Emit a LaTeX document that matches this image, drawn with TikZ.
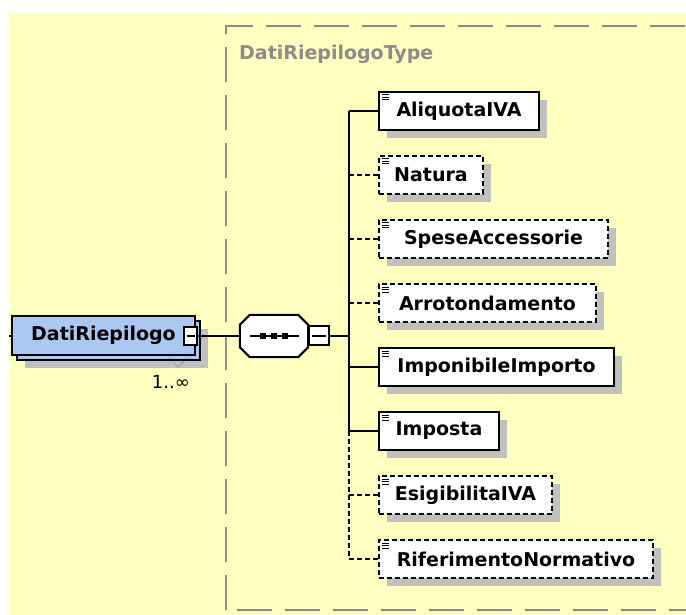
\documentclass[tikz,border=0pt]{standalone}
\usepackage{fontspec}
\setsansfont{DejaVu Sans}
\usepackage{tikz}
\usetikzlibrary{shadows,positioning}
\definecolor{xsyellow}{RGB}{255,255,192}
\definecolor{xsblue}{RGB}{170,200,240}
\definecolor{xsshadow}{RGB}{192,192,192}
\definecolor{xsgray}{RGB}{140,140,140}
\tikzstyle{link} = [line width=2pt, black]
\tikzstyle{optlink} = [link, dash pattern=on 5pt off 3pt]
\tikzstyle{elemfont} = [font=\sffamily\bfseries\fontsize{19}{22}\selectfont]
\tikzstyle{mandelem} = [rectangle, draw=black, line width=2pt, fill=white, minimum height=38pt, inner sep=0pt, elemfont, drop shadow={shadow xshift=8pt, shadow yshift=-8pt, fill=xsshadow, opacity=1}]
\tikzstyle{optelem} = [mandelem, dash pattern=on 5pt off 3pt]
\tikzstyle{rootelem} = [rectangle, draw=black, line width=2pt, fill=xsblue, minimum width=183pt, minimum height=39pt, inner sep=0pt, elemfont, drop shadow={shadow xshift=13pt, shadow yshift=-13pt, fill=xsshadow, opacity=1}, copy shadow={shadow xshift=5pt, shadow yshift=-5pt}]
\tikzstyle{seqnode} = [rectangle, minimum width=68pt, minimum height=42pt, inner sep=0pt]
\tikzstyle{minusbox} = [rectangle, draw=black, line width=2pt, fill=white, inner sep=0pt]

\begin{document}
\begin{tikzpicture}[x=1pt, y=-1pt]
\useasboundingbox (0,0) rectangle (686,615);
\fill[xsyellow] (9,13) rectangle (686,615);

% Complex type frame
\draw[xsgray, line width=2.4pt, dash pattern=on 35pt off 13pt] (226,610) -- (226,26) -- (700,26);
\draw[xsgray, line width=2.4pt, dash pattern=on 35pt off 13pt] (237,610) -- (700,610);
\node[elemfont, text=xsgray, anchor=west, inner sep=0pt] (typename) at (239,54) {DatiRiepilogoType};

% Root element
\coordinate (stub) at (9,335.5);
\node[rootelem] (root) at (103.5,335.5) {DatiRiepilogo\hspace{10pt}};
\node[minusbox, minimum width=13pt, minimum height=18pt] (rootminus) at (190.5,336) {};
\draw[line width=2pt] ([xshift=-4pt]rootminus.center) -- ([xshift=4pt]rootminus.center);
\draw[densely dotted, thin] (169,358) -- (178,367) -- (187,358);
\node[font=\sffamily\fontsize{18}{20}\selectfont, anchor=east, inner sep=0pt] (mult) at (190,382) {1..∞};

% Sequence compositor
\node[seqnode] (seq) at (274,336) {};
\fill[xsshadow, shift={(8,8)}] ([xshift=10pt]seq.north west) -- ([xshift=-10pt]seq.north east)
    -- ([yshift=-10pt]seq.north east) -- ([yshift=10pt]seq.south east)
    -- ([xshift=-10pt]seq.south east) -- ([xshift=10pt]seq.south west)
    -- ([yshift=10pt]seq.south west) -- ([yshift=-10pt]seq.north west) -- cycle;
\draw[line width=2pt, fill=white] ([xshift=10pt]seq.north west) -- ([xshift=-10pt]seq.north east)
    -- ([yshift=-10pt]seq.north east) -- ([yshift=10pt]seq.south east)
    -- ([xshift=-10pt]seq.south east) -- ([xshift=10pt]seq.south west)
    -- ([yshift=10pt]seq.south west) -- ([yshift=-10pt]seq.north west) -- cycle;
\draw[line width=2pt] ([xshift=-24pt]seq.center) -- ([xshift=25pt]seq.center);
\foreach \dx in {-11,0,11} {
    \fill ([xshift=\dx pt]seq.center) +(-3,-3) rectangle +(3,3);
}
\node[minusbox, minimum width=20pt, minimum height=19pt] (seqminus) at (318.5,335.5) {};
\draw[line width=2pt] ([xshift=-7pt]seqminus.center) -- ([xshift=7pt]seqminus.center);
\coordinate (bus) at (349,335.5);

% Child elements
\foreach \lbl/\w/\st [count=\i] in {AliquotaIVA/160/mandelem, Natura/104/optelem,
    SpeseAccessorie/229/optelem, Arrotondamento/217/optelem,
    ImponibileImporto/235/mandelem, Imposta/120/mandelem,
    EsigibilitaIVA/173/optelem, RiferimentoNormativo/274/optelem} {
    \node[\st, minimum width=\w pt, anchor=west] (c\i) at (378,{47+64*\i}) {\lbl};
    \foreach \k in {4,6.5,9} {
        \draw[line width=1pt] ([xshift=4pt,yshift=-\k pt]c\i.north west) -- ++(7,0);
    }
}

% Connections
\draw[link] (stub) -- (root.west);
\draw[link] (rootminus.east) -- (seq.west);
\draw[link] (seqminus.east) -- (bus);
\draw[link] (bus |- c1.west) -- (bus |- c6.west);
\draw[optlink] (bus |- c6.west) -- (bus |- c8.west);
\draw[link] (bus |- c1.west) -- (c1.west);
\draw[optlink] (bus |- c2.west) -- (c2.west);
\draw[optlink] (bus |- c3.west) -- (c3.west);
\draw[optlink] (bus |- c4.west) -- (c4.west);
\draw[link] (bus |- c5.west) -- (c5.west);
\draw[link] (bus |- c6.west) -- (c6.west);
\draw[optlink] (bus |- c7.west) -- (c7.west);
\draw[optlink] (bus |- c8.west) -- (c8.west);
\end{tikzpicture}
\end{document}
